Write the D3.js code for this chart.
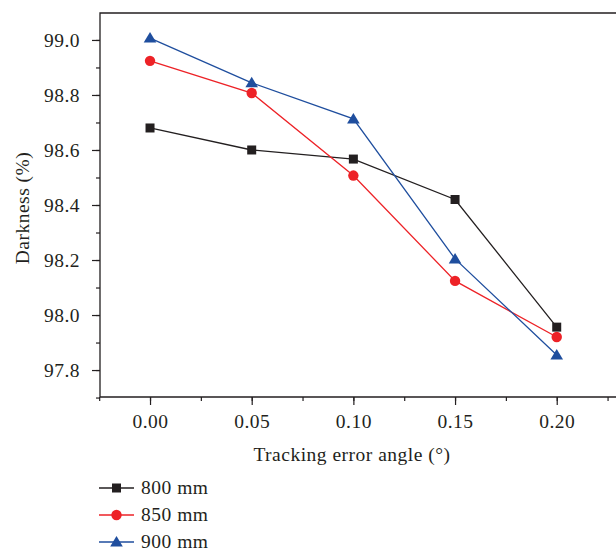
<!DOCTYPE html>
<html>
<head>
<meta charset="utf-8">
<script src="https://cdn.jsdelivr.net/npm/d3@7"></script>
<style>
  body { margin: 0; background: #fff; }
  svg { display: block; }
</style>
</head>
<body>
<div id="chart"></div>
<script>
// data
const angles = [0.00, 0.05, 0.10, 0.15, 0.20];
const series800 = [98.68, 98.60, 98.567, 98.42, 97.956];
const series850 = [98.924, 98.807, 98.507, 98.124, 97.92];
const series900 = [99.007, 98.844, 98.713, 98.204, 97.855];
const seriesNames = ["800 mm", "850 mm", "900 mm"];
const xTicks = [0.00, 0.05, 0.10, 0.15, 0.20];
const yTicks = [97.8, 98.0, 98.2, 98.4, 98.6, 98.8, 99.0];

const width = 616;
const height = 554;
const font = "\"Liberation Serif\", \"Times New Roman\", serif";
const fontSize = 19.5;
const spacing = "0.5px";
const ink = "#231f20";

const series = [
  { name: seriesNames[0], values: series800, color: "#231f20", shape: "square" },
  { name: seriesNames[1], values: series850, color: "#ed2227", shape: "circle" },
  { name: seriesNames[2], values: series900, color: "#1f4e9e", shape: "triangle" }
];

const svg = d3.select("#chart")
  .append("svg")
  .attr("width", width)
  .attr("height", height)
  .attr("font-family", font)
  .attr("font-size", fontSize);

const plotTop = 13, plotBottom = 397, plotLeft = 100;

const x = d3.scaleLinear()
  .domain([-0.0246, 0.25])
  .range([plotLeft, plotLeft + 0.2746 * 2033.5]);

const y = d3.scaleLinear()
  .domain([97.702, 99.098])
  .range([plotBottom, plotTop]);

// frame (right side falls outside the picture)
svg.append("path")
  .attr("d", `M${width + 10},${plotTop}H${plotLeft}V${plotBottom}H${width + 10}`)
  .attr("fill", "none")
  .attr("stroke", ink)
  .attr("stroke-width", 1.3);

// minor ticks
const yMinor = d3.range(97.7, 99.1, 0.1).map(v => +v.toFixed(1));
svg.append("g")
  .attr("transform", `translate(${plotLeft},0)`)
  .call(d3.axisLeft(y).tickValues(yMinor).tickSize(4).tickFormat(""))
  .call(g => g.select(".domain").remove());

const xMinor = d3.range(-0.025, 0.25, 0.025).map(v => +v.toFixed(3));
svg.append("g")
  .attr("transform", `translate(0,${plotBottom})`)
  .call(d3.axisBottom(x).tickValues(xMinor).tickSize(4).tickFormat(""))
  .call(g => g.select(".domain").remove());

// major ticks + labels
svg.append("g")
  .attr("class", "y-axis")
  .attr("transform", `translate(${plotLeft},0)`)
  .call(d3.axisLeft(y).tickValues(yTicks).tickSize(8).tickPadding(12).tickFormat(d3.format(".1f")))
  .call(g => g.select(".domain").remove())
  .call(g => g.attr("font-family", font).attr("font-size", fontSize))
  .selectAll("text")
  .style("letter-spacing", spacing)
  .attr("fill", ink);

svg.append("g")
  .attr("class", "x-axis")
  .attr("transform", `translate(0,${plotBottom})`)
  .call(d3.axisBottom(x).tickValues(xTicks).tickSize(8).tickPadding(9).tickFormat(d3.format(".2f")))
  .call(g => g.select(".domain").remove())
  .call(g => g.attr("font-family", font).attr("font-size", fontSize))
  .selectAll("text")
  .style("letter-spacing", spacing)
  .attr("fill", ink);

svg.selectAll(".tick line").attr("stroke", ink).attr("stroke-width", 1.2);

// axis titles
svg.append("text")
  .attr("transform", "translate(29,208) rotate(-90)")
  .attr("text-anchor", "middle")
  .style("letter-spacing", spacing)
  .attr("fill", ink)
  .text("Darkness (%)");

svg.append("text")
  .attr("x", 352)
  .attr("y", 461)
  .attr("text-anchor", "middle")
  .style("letter-spacing", spacing)
  .attr("fill", ink)
  .text("Tracking error angle (°)");

function drawMarker(g, shape, color, cx, cy) {
  if (shape === "square") {
    g.append("rect")
      .attr("x", cx - 4.5).attr("y", cy - 4.5)
      .attr("width", 9).attr("height", 9)
      .attr("fill", color);
  } else if (shape === "circle") {
    g.append("circle")
      .attr("cx", cx).attr("cy", cy).attr("r", 5.2)
      .attr("fill", color);
  } else {
    g.append("path")
      .attr("d", `M${cx},${cy - 6}L${cx + 6.3},${cy + 4.5}L${cx - 6.3},${cy + 4.5}Z`)
      .attr("fill", color);
  }
}

const line = d3.line()
  .x((d, i) => x(angles[i]))
  .y(d => y(d));

series.forEach(s => {
  const g = svg.append("g");
  g.append("path")
    .datum(s.values)
    .attr("d", line)
    .attr("fill", "none")
    .attr("stroke", s.color)
    .attr("stroke-width", 1.3);
  s.values.forEach((v, i) => drawMarker(g, s.shape, s.color, x(angles[i]), y(v)));
});

// legend
const legendY = [488, 515, 542];
series.forEach((s, i) => {
  const g = svg.append("g");
  g.append("line")
    .attr("x1", 99).attr("x2", 134)
    .attr("y1", legendY[i]).attr("y2", legendY[i])
    .attr("stroke", s.color)
    .attr("stroke-width", 1.3);
  drawMarker(g, s.shape, s.color, 116.5, legendY[i]);
  g.append("text")
    .attr("x", 141)
    .attr("y", legendY[i] + 6)
    .style("letter-spacing", spacing)
    .attr("fill", ink)
    .text(s.name);
});
</script>
</body>
</html>
